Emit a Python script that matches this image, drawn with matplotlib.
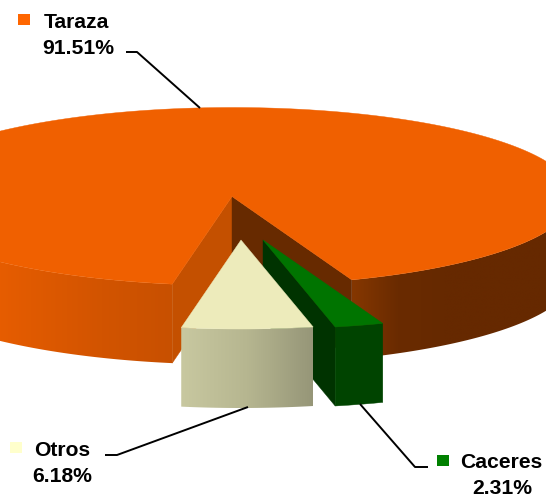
import numpy as np
import matplotlib
matplotlib.use("Agg")
import matplotlib.pyplot as plt
from matplotlib.patches import Polygon, Rectangle
from matplotlib.colors import LinearSegmentedColormap

categories = ["Taraza", "Otros", "Caceres"]
values = [91.51, 6.18, 2.31]

plt.rcParams['font.family'] = ['Liberation Sans', 'DejaVu Sans']

W, H = 546, 502
fig = plt.figure(figsize=(W / 100, H / 100), dpi=100)
ax = fig.add_axes([0, 0, 1, 1])

# pie geometry (pixels)
A, B, DEPTH = 342, 89, 79
START = -69.5  # degrees where the first slice starts, counter-clockwise
CENTERS = {"Taraza": (232, 197.5), "Otros": (241, 241), "Caceres": (263, 241)}
spans = {}
a0 = START
for c, v in zip(categories, values):
    spans[c] = (a0, a0 + v / sum(values) * 360)
    a0 = spans[c][1]


def arc(center, t0, t1, dy=0, n=400):
    t = np.radians(np.linspace(t0, t1, n))
    return np.column_stack([center[0] + A * np.cos(t), center[1] - B * np.sin(t) + dy])


def gradient(poly_pts, x0, x1, colors, z):
    patch = Polygon(poly_pts, closed=True, fc='none', ec='none', transform=ax.transData)
    ax.add_patch(patch)
    cmap = LinearSegmentedColormap.from_list("g", colors)
    ys = [p[1] for p in poly_pts]
    im = ax.imshow(np.linspace(0, 1, 256).reshape(1, -1), cmap=cmap, aspect='auto',
                   extent=[x0, x1, max(ys) + 1, min(ys) - 1], zorder=z, interpolation='bilinear')
    im.set_clip_path(patch)


def wall(center, t0, t1):
    top = arc(center, t0, t1)
    bot = arc(center, t0, t1, DEPTH)
    return np.vstack([top, bot[::-1]])


# ---- main slice ----
c = CENTERS["Taraza"]
t0, t1 = spans["Taraza"]
corner_r = arc(c, t0, t0, n=1)[0]
corner_l = arc(c, t1, t1, n=1)[0]

# outer wall, left and right visible parts
gradient(wall(c, 180, t1), -110, corner_l[0],
         ["#F06200", "#EE6000", "#E05A00", "#D25400", "#C85000"], 1)
gradient(wall(c, t0 + 360, 360), corner_r[0], 580,
         ["#853700", "#6A2B00", "#662900", "#662900", "#662900", "#662900"], 1)
# inner cut walls
ax.add_patch(Polygon([c, corner_l, (corner_l[0], corner_l[1] + DEPTH), (c[0], c[1] + DEPTH)],
                     closed=True, fc="#C45000", ec="#C45000", lw=0.3, zorder=2))
ax.add_patch(Polygon([c, corner_r, (corner_r[0], corner_r[1] + DEPTH), (c[0], c[1] + DEPTH)],
                     closed=True, fc="#672A00", ec="#672A00", lw=0.3, zorder=2))
# top
ax.add_patch(Polygon(np.vstack([[c], arc(c, t0, t1, n=800)]), closed=True,
                     fc="#F06000", ec="#F06000", lw=0.3, zorder=3))

# ---- Caceres ----
c = CENTERS["Caceres"]
t0, t1 = spans["Caceres"]
pl = arc(c, t0, t0, n=1)[0]
ax.add_patch(Polygon([c, pl, (pl[0], pl[1] + DEPTH), (c[0], c[1] + DEPTH)], closed=True,
                     fc="#003300", ec="#003300", lw=0.3, zorder=4))
ax.add_patch(Polygon(wall(c, t0, t1), closed=True, fc="#004400", ec="#004400", lw=0.3, zorder=5))
ax.add_patch(Polygon(np.vstack([[c], arc(c, t0, t1, n=60)]), closed=True,
                     fc="#007400", ec="#007400", lw=0.3, zorder=6))

# ---- Otros ----
c = CENTERS["Otros"]
t0, t1 = spans["Otros"]
pl = arc(c, t0, t0, n=1)[0]
pr = arc(c, t1, t1, n=1)[0]
gradient(wall(c, t0, t1), pl[0], pr[0], ["#C8C8A0", "#B6B690", "#969678"], 7)
ax.add_patch(Polygon(np.vstack([[c], arc(c, t0, t1, n=100)]), closed=True,
                     fc="#EDEBBB", ec="#EDEBBB", lw=0.3, zorder=8))

# ---- labels ----
LABELS = {
    "Taraza": dict(square=(18, 15), color="#FF6600", name=(76.5, 22.5), pct=(78, 48.5),
                   leader=[(126, 53), (137, 53), (200, 109)]),
    "Otros": dict(square=(10, 443), color="#FFFFCC", name=(62.5, 450.5), pct=(62.5, 476.5),
                  leader=[(105, 456), (117, 456), (248, 408)]),
    "Caceres": dict(square=(437, 456), color="#008000", name=(501.5, 462.5), pct=(502, 488.5),
                    leader=[(360, 405), (415, 468), (428, 468)]),
}
for name, v in zip(categories, values):
    d = LABELS[name]
    ax.add_patch(Rectangle(d["square"], 11.5, 11, fc=d["color"], ec='none', zorder=10))
    ax.text(*d["name"], name, ha='center', va='center', fontsize=15.2, fontweight='bold',
            color='black', zorder=11)
    ax.text(*d["pct"], f"{v:.2f}%", ha='center', va='center', fontsize=15.2, fontweight='bold',
            color='black', zorder=11)
    xs, ys = zip(*d["leader"])
    ax.plot(xs, ys, color='black', lw=1.4, zorder=9, solid_capstyle='butt')

ax.set_xlim(0, W)
ax.set_ylim(H, 0)
ax.axis('off')
fig.savefig("out.png", dpi=100, facecolor='white')
